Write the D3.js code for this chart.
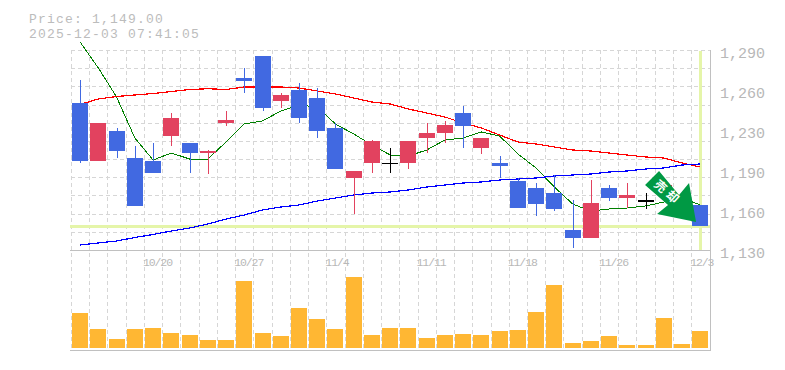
<!DOCTYPE html>
<html><head><meta charset="utf-8">
<script src="https://cdn.jsdelivr.net/npm/d3@7/dist/d3.min.js"></script>
<style>html,body{margin:0;padding:0;background:#fff}svg{display:block}</style>
</head><body><svg id="c" width="785" height="370"></svg>
<script>
const dates=["10/14","10/15","10/16","10/17","10/20","10/21","10/22","10/23","10/24","10/27","10/28","10/29","10/30","10/31","11/4","11/5","11/6","11/7","11/10","11/11","11/12","11/13","11/14","11/17","11/18","11/19","11/20","11/21","11/25","11/26","11/27","11/28","12/1","12/2","12/3"];
const labelledDates=["10/20","10/27","11/4","11/11","11/18","11/26","12/3"];
const priceTicks=[1290,1258,1226,1194,1162,1130];
const high =[1266,1232,1228,1213,1216,1240,1216,1210,1241,1276,1285,1256,1264,1260,1232,1193,1218,1212,1217,1232,1233,1245,1220,1205,1188,1184,1190,1170,1186,1182,1184,1176,1183,1169,1166];
const open =[1248,1201,1225,1204,1201,1221,1216,1208,1232,1268,1285,1249,1258,1252,1228,1188,1200,1200,1200,1220,1224,1240,1212,1200,1185,1180,1176,1146,1140,1180,1172,1170,1176,1160,1166];
const close=[1201,1232,1209,1165,1192,1236,1208,1209,1234,1265,1244,1254,1236,1225,1195,1193,1217,1200,1217,1224,1230,1229,1220,1197,1164,1167,1163,1140,1168,1172,1174,1170,1182,1167,1149];
const low  =[1200,1201,1204,1165,1192,1213,1192,1191,1229,1256,1241,1244,1232,1220,1195,1159,1192,1192,1195,1208,1216,1212,1207,1188,1164,1157,1161,1132,1140,1169,1164,1163,1174,1157,1149];
const maShort=[1296.4,1275.6,1252.4,1219.6,1202,1207.6,1202.8,1202.8,1216.4,1230.8,1233.2,1241.2,1246,1244.4,1230.8,1222.8,1214,1206,1205.2,1210,1218,1219.6,1224.4,1221.2,1206.8,1195.6,1180.4,1166.8,1161.2,1162.8,1163.6,1165.2,1168.4,1171.6,1166];
const maMid=[1246.5,1250.8,1252.8,1254,1255.2,1256.8,1258.4,1259,1258.4,1260.4,1260.4,1260.4,1259.6,1257.2,1254.8,1251.6,1248.4,1246.8,1242.8,1239.6,1236.4,1231.6,1227.6,1222,1216.4,1214.8,1212.4,1210,1209.2,1207.6,1206,1204.4,1203.6,1199.6,1196.4];
const maLong=[1134,1135.6,1137.2,1140,1142.4,1145.2,1147.6,1150.8,1154.8,1158,1162,1164.4,1166,1169.2,1171.6,1174,1175.6,1176.4,1178,1180.4,1182,1183.6,1184.4,1186,1186.8,1187.6,1189.2,1190,1190.8,1192.4,1193.2,1194.8,1195.6,1198,1198.8];
const volume=[35,19,9,19,20,15,13,8,8,67,15,12,40,29,19,71,13,20,20,10,13,14,13,17,18,36,63,5,7,12,3,3,30,4,17];
const lastPrice=1149;
const priceTitle="Price: 1,149.00";
const timeTitle="2025-12-03 07:41:05";
const arrowLabel="売却";

const svg=d3.select("#c");
const MONO="'Liberation Mono',monospace";
const GREY="#b8b8b8";
const x=d3.scaleBand().domain(dates).range([71,709.4]);
const cx=d=>x(d)+x.bandwidth()/2;
const y=d3.scaleLinear().domain([1130,1290]).range([250,50]);
const v=d3.scaleLinear().domain([0,98]).range([348,250]);

// grid
const grid=svg.append("g").attr("stroke","#d6d6d6").attr("stroke-dasharray","4,3").attr("shape-rendering","crispEdges");
grid.selectAll("line.v").data(dates).join("line").attr("class","v")
  .attr("x1",d=>Math.round(x(d))+.5).attr("x2",d=>Math.round(x(d))+.5).attr("y1",50).attr("y2",349);
grid.selectAll("line.h").data(d3.range(12)).join("line").attr("class","h")
  .attr("x1",71).attr("x2",710).attr("y1",i=>Math.round(y(1130+i*160/11))+.5).attr("y2",i=>Math.round(y(1130+i*160/11))+.5);

// highlight of latest price & date
const hl=svg.append("g").attr("fill","#e5f5a9").attr("shape-rendering","crispEdges");
hl.append("rect").attr("x",70).attr("width",640).attr("y",Math.round(y(lastPrice))-1).attr("height",3);
hl.append("rect").attr("x",Math.round(cx("12/3"))-1).attr("width",3).attr("y",51).attr("height",199);

// frame
const fr=svg.append("g").attr("stroke","#c0c0c0").attr("shape-rendering","crispEdges");
fr.append("line").attr("x1",70).attr("x2",711).attr("y1",250.5).attr("y2",250.5);
fr.append("line").attr("x1",70).attr("x2",711).attr("y1",350.5).attr("y2",350.5);
fr.append("line").attr("x1",710.5).attr("x2",710.5).attr("y1",50).attr("y2",351);

// volume
svg.append("g").attr("fill","#ffb733").attr("shape-rendering","crispEdges")
  .selectAll("rect").data(dates).join("rect")
  .attr("x",d=>Math.round(cx(d)-8)).attr("width",16)
  .attr("y",(d,i)=>v(volume[i])).attr("height",(d,i)=>v(0)-v(volume[i]));

// moving averages
const line=d3.line().x((d,i)=>cx(dates[i])).y(d=>y(d));
[[maShort,"#008000",1],[maMid,"#ff0000",1.2],[maLong,"#0000ff",1.2]].forEach(([s,c,w])=>{
  svg.append("path").attr("d",line(s)).attr("fill","none").attr("stroke",c).attr("stroke-width",w).attr("shape-rendering","crispEdges");
});

// candles
const col=i=>close[i]>open[i]?"#e2425f":close[i]<open[i]?"#4169e1":"#000";
const cg=svg.append("g").attr("shape-rendering","crispEdges").selectAll("g").data(dates).join("g");
cg.append("rect").attr("x",d=>Math.round(cx(d))).attr("width",1)
  .attr("y",(d,i)=>y(high[i])).attr("height",(d,i)=>y(low[i])-y(high[i])).attr("fill",(d,i)=>col(i));
cg.append("rect").attr("x",d=>Math.round(cx(d)-8)).attr("width",16)
  .attr("y",(d,i)=>y(Math.max(open[i],close[i])))
  .attr("height",(d,i)=>Math.max(1.6,y(Math.min(open[i],close[i]))-y(Math.max(open[i],close[i]))))
  .attr("fill",(d,i)=>col(i));

// axes
const ya=d3.axisRight(y).tickValues(priceTicks).tickSize(0).tickPadding(10)
  .tickFormat(t=>d3.format(",")(Math.round(t/10)*10));
const yg=svg.append("g").attr("transform","translate(710,0)").call(ya);
yg.select(".domain").remove();
yg.selectAll("text").attr("font-family",MONO).attr("font-size",15).attr("fill",GREY).attr("dy","0.5em");

const xa=d3.axisBottom(x).tickValues(labelledDates).tickSize(0).tickPadding(0);
const xg=svg.append("g").attr("transform","translate(0,258)").call(xa);
xg.select(".domain").remove();
xg.selectAll("text").attr("font-family",MONO).attr("font-size",11.5).attr("letter-spacing",-1.1).attr("fill",GREY)
  .attr("text-anchor","start").attr("x",-x.bandwidth()/2-1).attr("dy","0.72em");

// titles
const tg=svg.append("g").attr("font-family",MONO).attr("font-size",13).attr("letter-spacing",1.2).attr("fill","#bcbcbc");
tg.append("text").attr("x",29).attr("y",22.7).text(priceTitle);
tg.append("text").attr("x",29).attr("y",37.7).text(timeTitle);

// signal arrow, anchored on the chart scales
const arrowShape=[[-11,-29],[-25,-15],[-2,5],[-13,14],[26,22],[19,-17],[9,-5]];
const ag=svg.append("g").attr("transform",`translate(${cx("12/2")-12},${y(1170)})`);
ag.append("path").attr("d",d3.line().curve(d3.curveLinearClosed)(arrowShape)).attr("fill","#009944");
ag.append("text").attr("transform","translate(-2,-7) rotate(42)").attr("text-anchor","middle")
  .attr("font-family","'Noto Sans CJK JP'").attr("font-size",12).attr("font-weight",700).attr("letter-spacing",4).attr("fill","#fff")
  .attr("dy","0.35em").text(arrowLabel);
</script></body></html>
